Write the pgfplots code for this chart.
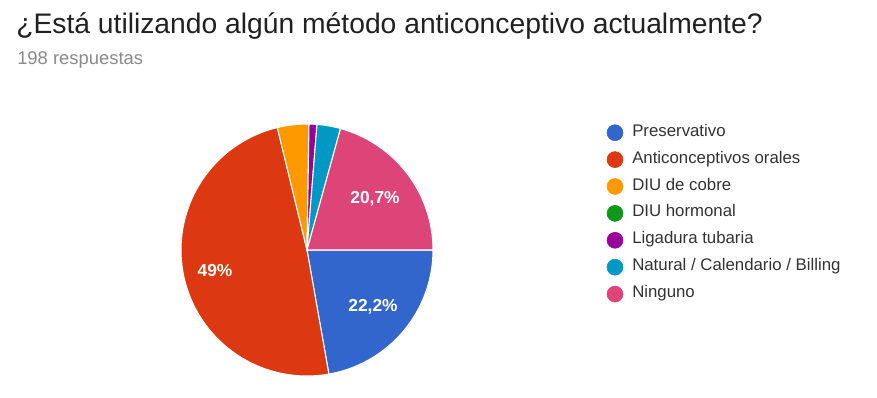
\documentclass[border=0pt]{standalone}
\usepackage{pgfplots}
\pgfplotsset{compat=1.18}
\usepackage{fontspec}
\setmainfont{Liberation Sans}
\definecolor{cPres}{HTML}{3366CC}
\definecolor{cOral}{HTML}{DC3912}
\definecolor{cCobre}{HTML}{FF9900}
\definecolor{cHorm}{HTML}{109618}
\definecolor{cLig}{HTML}{990099}
\definecolor{cNat}{HTML}{0099C6}
\definecolor{cNing}{HTML}{DD4477}
\definecolor{titlegray}{HTML}{212121}
\definecolor{subgray}{HTML}{8A8A8A}
\definecolor{leggray}{HTML}{333333}
% responses per option (198 total)
\def\vPres{44}
\def\vOral{97}
\def\vCobre{8}
\def\vHorm{0}
\def\vLig{2}
\def\vNat{6}
\def\vNing{41}
\def\vTot{198}
\def\cx{307}
\def\cy{147}
\def\rr{126}
\begin{document}
\begin{tikzpicture}
\pgfmathsetmacro\aA{0}
\pgfmathsetmacro\aB{-\vPres/\vTot*360}
\pgfmathsetmacro\aC{-(\vPres+\vOral)/\vTot*360}
\pgfmathsetmacro\aD{-(\vPres+\vOral+\vCobre)/\vTot*360}
\pgfmathsetmacro\aE{-(\vPres+\vOral+\vCobre+\vHorm)/\vTot*360}
\pgfmathsetmacro\aF{-(\vPres+\vOral+\vCobre+\vHorm+\vLig)/\vTot*360}
\pgfmathsetmacro\aG{-(\vPres+\vOral+\vCobre+\vHorm+\vLig+\vNat)/\vTot*360}
\pgfmathsetmacro\aH{-360}
\begin{axis}[
  x=0.75pt, y=0.75pt,
  xmin=0, xmax=877, ymin=0, ymax=397,
  scale only axis, hide axis, clip=false,
]
\addplot[fill=white, draw=none] coordinates {(0,0) (877,0) (877,397) (0,397)} -- cycle;
% pie wedges
\addplot[fill=cPres, draw=white, line width=0.8pt, domain=\aB:\aA, samples=80, variable=\t]
  ({\cx+\rr*cos(\t)},{\cy+\rr*sin(\t)}) -- (axis cs:\cx,\cy) -- cycle;
\addplot[fill=cOral, draw=white, line width=0.8pt, domain=\aC:\aB, samples=120, variable=\t]
  ({\cx+\rr*cos(\t)},{\cy+\rr*sin(\t)}) -- (axis cs:\cx,\cy) -- cycle;
\addplot[fill=cCobre, draw=white, line width=0.8pt, domain=\aD:\aC, samples=20, variable=\t]
  ({\cx+\rr*cos(\t)},{\cy+\rr*sin(\t)}) -- (axis cs:\cx,\cy) -- cycle;
\addplot[fill=cLig, draw=white, line width=0.8pt, domain=\aF:\aE, samples=10, variable=\t]
  ({\cx+\rr*cos(\t)},{\cy+\rr*sin(\t)}) -- (axis cs:\cx,\cy) -- cycle;
\addplot[fill=cNat, draw=white, line width=0.8pt, domain=\aG:\aF, samples=20, variable=\t]
  ({\cx+\rr*cos(\t)},{\cy+\rr*sin(\t)}) -- (axis cs:\cx,\cy) -- cycle;
\addplot[fill=cNing, draw=white, line width=0.8pt, domain=\aH:\aG, samples=80, variable=\t]
  ({\cx+\rr*cos(\t)},{\cy+\rr*sin(\t)}) -- (axis cs:\cx,\cy) -- cycle;
% slice labels
\node[text=white, font=\bfseries\fontsize{13}{15}\selectfont] at (axis cs:373,90) {22,2\%};
\node[text=white, font=\bfseries\fontsize{13}{15}\selectfont] at (axis cs:215,126) {49\%};
\node[text=white, font=\bfseries\fontsize{13}{15}\selectfont] at (axis cs:375,198) {20,7\%};
% legend markers
\addplot[only marks, mark=*, mark size=6pt, color=cPres] coordinates {(615,264.3)};
\addplot[only marks, mark=*, mark size=6pt, color=cOral] coordinates {(615,237.4)};
\addplot[only marks, mark=*, mark size=6pt, color=cCobre] coordinates {(615,210.5)};
\addplot[only marks, mark=*, mark size=6pt, color=cHorm] coordinates {(615,183.6)};
\addplot[only marks, mark=*, mark size=6pt, color=cLig] coordinates {(615,156.7)};
\addplot[only marks, mark=*, mark size=6pt, color=cNat] coordinates {(615,129.8)};
\addplot[only marks, mark=*, mark size=6pt, color=cNing] coordinates {(615,102.9)};
\begin{scope}[every node/.style={anchor=mid west, inner sep=0pt, text=leggray, font=\fontsize{12.6}{15}\selectfont}]
\node at (axis cs:632,264.3) {Preservativo};
\node at (axis cs:632,237.4) {Anticonceptivos orales};
\node at (axis cs:632,210.5) {DIU de cobre};
\node at (axis cs:632,183.6) {DIU hormonal};
\node at (axis cs:632,156.7) {Ligadura tubaria};
\node at (axis cs:632,129.8) {Natural / Calendario / Billing};
\node at (axis cs:632,102.9) {Ninguno};
\end{scope}
% title
\node[anchor=base west, inner sep=0pt, text=titlegray, font=\fontsize{21.2}{25}\selectfont] at (axis cs:16,363) {¿Está utilizando algún método anticonceptivo actualmente?};
\node[anchor=base west, inner sep=0pt, text=subgray, font=\fontsize{13.8}{16}\selectfont] at (axis cs:17,332) {198 respuestas};
\end{axis}
\end{tikzpicture}
\end{document}
